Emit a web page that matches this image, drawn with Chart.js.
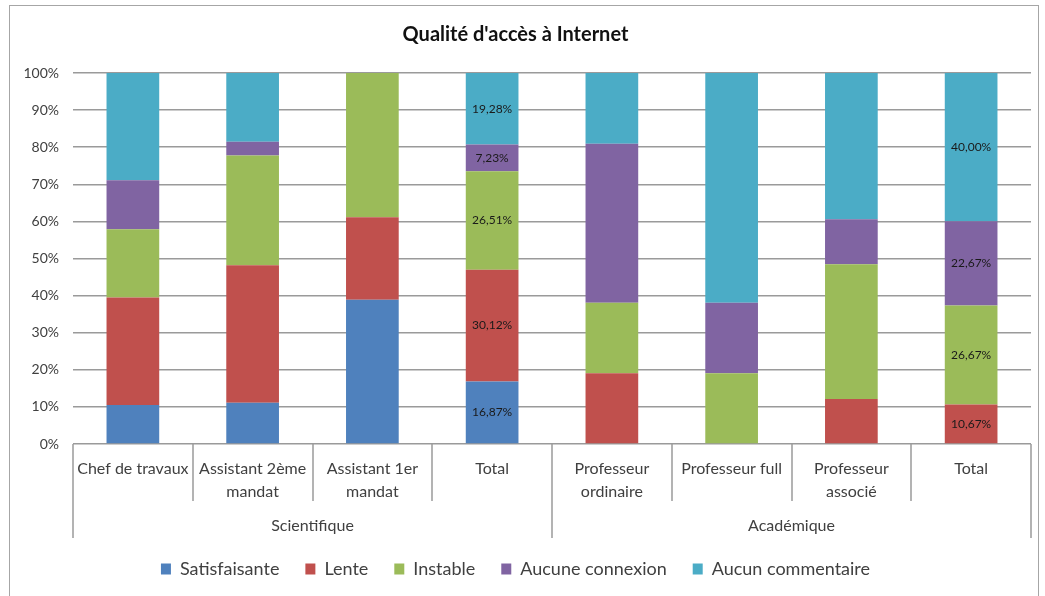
<!DOCTYPE html>
<html>
<head>
<meta charset="utf-8">
<script src="https://cdn.jsdelivr.net/npm/chart.js@4/dist/chart.umd.min.js"></script>
<style>
   html, body { margin: 0; padding: 0; background: #fff; }
   #wrap { position: relative; width: 1045px; height: 596px; }
   #frame {
      position: absolute; left: 9px; top: 5px; width: 1030px; height: 600px;
      border: 1.5px solid #a6a6a6; box-sizing: border-box; pointer-events: none;
   }
</style>
</head>
<body>
<div id="wrap">
   <canvas id="chart" width="1045" height="596"></canvas>
   <div id="frame"></div>
</div>
<script>
/* global Chart */

const categories = [
   ["Chef de travaux"],
   ["Assistant 2ème", "mandat"],
   ["Assistant 1er", "mandat"],
   ["Total"],
   ["Professeur", "ordinaire"],
   ["Professeur full"],
   ["Professeur", "associé"],
   ["Total"],
];
const groups = ["Scientifique", "Académique"];
const groupSize = 4;
const totalIndexes = [3, 7];

const satisfaisante = [10.53, 11.11, 38.89, 16.87, 0, 0, 0, 0];
const lente = [28.95, 37.04, 22.22, 30.12, 19.05, 0, 12.12, 10.67];
const instable = [18.42, 29.63, 38.89, 26.51, 19.05, 19.05, 36.36, 26.67];
const aucuneConnexion = [13.16, 3.7, 0, 7.23, 42.86, 19.05, 12.12, 22.67];
const aucunCommentaire = [28.95, 18.52, 0, 19.28, 19.05, 61.9, 39.39, 40.0];

const yTicks = [0, 10, 20, 30, 40, 50, 60, 70, 80, 90, 100];

const FONT = "Lato, 'Open Sans', sans-serif";
const AXIS_GREY = "#9a9a9a";

// draws the two-level category axis (separators + group labels)
const groupAxisPlugin = {
   id: "groupAxis",
   afterDraw(chart) {
      const ctx = chart.ctx;
      const x = chart.scales.x;
      const bottom = chart.chartArea.bottom;
      const n = categories.length;
      const half = (x.getPixelForValue(1) - x.getPixelForValue(0)) / 2;

      ctx.save();
      ctx.strokeStyle = AXIS_GREY;
      ctx.lineWidth = 1.5;
      for (let i = 0; i <= n; i++) {
         const px = Math.round(x.getPixelForValue(i) - half);
         const long = i % groupSize === 0;
         ctx.beginPath();
         ctx.moveTo(px, bottom);
         ctx.lineTo(px, bottom + (long ? 94 : 57));
         ctx.stroke();
      }

      ctx.fillStyle = "#404040";
      ctx.font = "16px " + FONT;
      ctx.textAlign = "center";
      ctx.textBaseline = "middle";
      groups.forEach((g, gi) => {
         const first = x.getPixelForValue(gi * groupSize) - half;
         const last = x.getPixelForValue(gi * groupSize + groupSize - 1) + half;
         ctx.fillText(g, (first + last) / 2, bottom + 82);
      });
      ctx.restore();
   },
};

// percentage labels on the Total bars only
const totalLabelsPlugin = {
   id: "totalLabels",
   afterDatasetsDraw(chart) {
      const ctx = chart.ctx;
      ctx.save();
      ctx.font = "12px " + FONT;
      ctx.fillStyle = "#1a1a1a";
      ctx.textAlign = "center";
      ctx.textBaseline = "middle";
      chart.data.datasets.forEach((ds, di) => {
         const meta = chart.getDatasetMeta(di);
         totalIndexes.forEach((idx) => {
            const v = ds.data[idx];
            if (!v) return;
            const bar = meta.data[idx];
            const label = v.toFixed(2).replace(".", ",") + "%";
            ctx.fillText(label, bar.x, (bar.y + bar.base) / 2);
         });
      });
      ctx.restore();
   },
};

const data = {
   labels: categories,
   datasets: [
      { label: "Satisfaisante", data: satisfaisante, backgroundColor: "#4F81BD" },
      { label: "Lente", data: lente, backgroundColor: "#C0504D" },
      { label: "Instable", data: instable, backgroundColor: "#9BBB59" },
      { label: "Aucune connexion", data: aucuneConnexion, backgroundColor: "#8064A2" },
      { label: "Aucun commentaire", data: aucunCommentaire, backgroundColor: "#4BACC6" },
   ],
};

const config = {
   type: "bar",
   data: data,
   options: {
      responsive: false,
      animation: false,
      layout: { padding: { top: 9, right: 14, left: 0, bottom: 8 } },
      datasets: {
         bar: { categoryPercentage: 1, barPercentage: 0.44, borderWidth: 0 },
      },
      plugins: {
         title: {
            display: true,
            text: "Qualité d'accès à Internet",
            color: "#111",
            font: { family: FONT, size: 20, weight: "bold" },
            padding: { top: 14, bottom: 26 },
         },
         legend: {
            position: "bottom",
            labels: {
               color: "#404040",
               font: { family: FONT, size: 18 },
               boxWidth: 10,
               boxHeight: 11,
               padding: 26,
            },
         },
         tooltip: { enabled: false },
      },
      scales: {
         x: {
            stacked: true,
            grid: { display: false },
            border: { display: false },
            ticks: {
               color: "#404040",
               font: { family: FONT, size: 16, lineHeight: 1.45 },
               padding: 5,
               maxRotation: 0,
               autoSkip: false,
            },
            afterFit(scale) {
               scale.height = 90;
            },
         },
         y: {
            stacked: true,
            min: 0,
            max: 100,
            afterBuildTicks(scale) {
               scale.ticks = yTicks.map((v) => ({ value: v }));
            },
            grid: { color: AXIS_GREY, lineWidth: 1.5, drawTicks: false },
            border: { display: false },
            ticks: {
               color: "#404040",
               font: { family: FONT, size: 14 },
               padding: 14,
               callback: (v) => v + "%",
            },
            afterFit(scale) {
               scale.width = 73;
            },
         },
      },
   },
   plugins: [groupAxisPlugin, totalLabelsPlugin],
};

new Chart(document.getElementById("chart"), config);
</script>
</body>
</html>
